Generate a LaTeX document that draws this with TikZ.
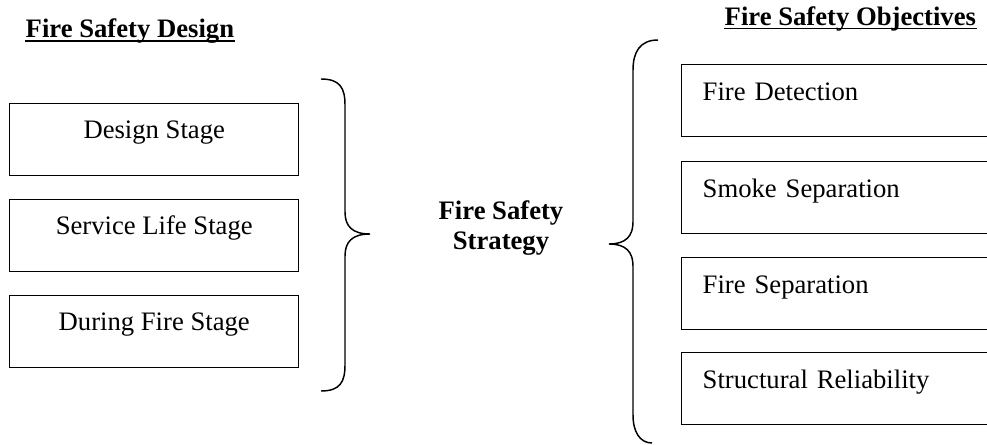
\documentclass[tikz,border=0pt]{standalone}
\usepackage{fontspec}
\setmainfont{Liberation Serif}
\begin{document}
\begin{tikzpicture}[x=0.75pt,y=-0.75pt,line width=1.1pt,
  txt/.style={font=\fontsize{20}{22.5}\selectfont},
  lbox/.style={draw, txt, anchor=north west, minimum width=216.75pt,
    inner xsep=0pt, inner ysep=0pt, text height=26.25pt, text depth=27.75pt},
  rbox/.style={draw, txt, anchor=north west, text width=207.75pt, align=left,
    inner xsep=15.75pt, inner ysep=0pt, text height=27pt, text depth=27pt},
  title/.style={txt, font=\fontsize{20}{22.5}\selectfont\bfseries, inner sep=0pt, anchor=base west},
  uline/.style={line width=1.2pt},
  brace/.style={line width=1.1pt}]
\clip (0,0) rectangle (987,445);
% titles
\node[title] (t1) at (25,38) {Fire Safety Design};
\draw[uline] ([yshift=-2.3pt]t1.base west) -- ([yshift=-2.3pt]t1.base east);
\node[title] (t2) at (724,25.5) {Fire Safety Objectives};
\draw[uline] ([yshift=-2.3pt]t2.base west) -- ([yshift=-2.3pt]t2.base east);
% left boxes
\node[lbox] (d1) at (9,103) {Design Stage};
\node[lbox] (d2) at (9,199) {Service Life Stage};
\node[lbox] (d3) at (9,295) {During Fire Stage};
% right boxes
\node[rbox] (o1) at (681,64) {Fire Detection};
\node[rbox] (o2) at (681,161) {Smoke Separation};
\node[rbox] (o3) at (681,257) {Fire Separation};
\node[rbox] (o4) at (681,352) {Structural Reliability};
% centre text
\node[txt, font=\fontsize{20}{22.5}\selectfont\bfseries, align=center, inner sep=0pt] (s) at (501,228.5) {Fire Safety\\Strategy};
% left brace
\draw[brace] (321,79) .. controls (340,79) and (345,88) .. (345,105) -- (345,212)
  .. controls (345,226) and (352,234) .. (370,234)
  .. controls (352,234) and (345,242) .. (345,256) -- (345,365)
  .. controls (345,382) and (340,391) .. (321,391);
% right brace
\draw[brace] (658,40) .. controls (640,40) and (633,52) .. (633,70) -- (633,222)
  .. controls (633,236) and (626,244) .. (609,244)
  .. controls (626,244) and (633,252) .. (633,266) -- (633,415)
  .. controls (633,432) and (640,443) .. (652,443);
\end{tikzpicture}
\end{document}
